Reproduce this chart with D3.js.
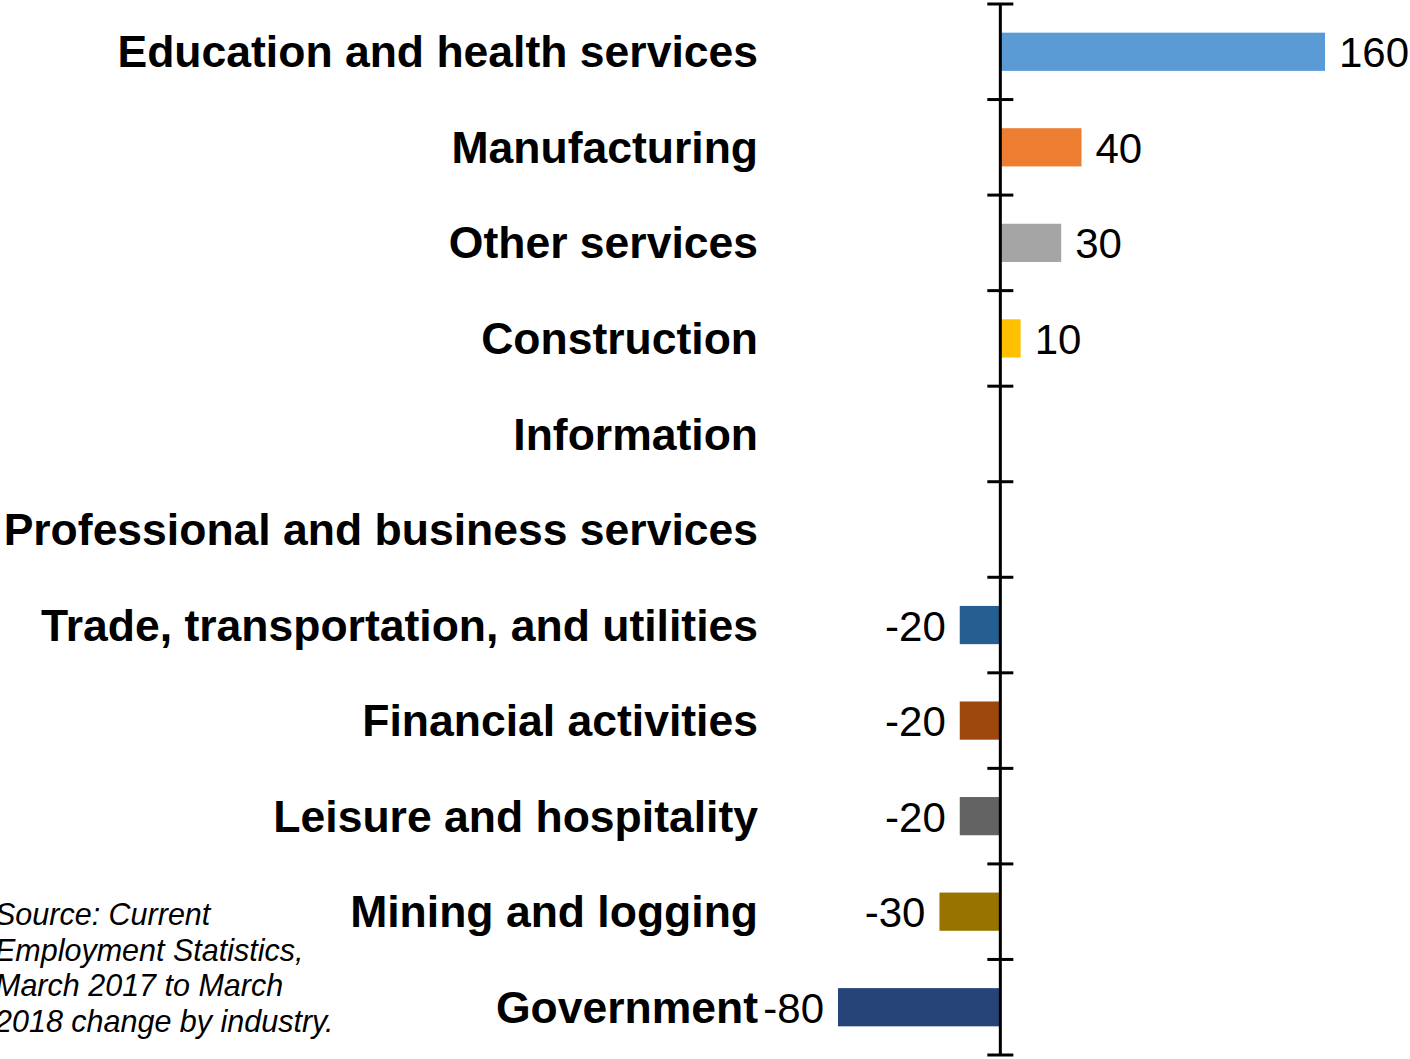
<!DOCTYPE html>
<html>
<head>
<meta charset="utf-8">
<title>Change by industry</title>
<script src="https://cdn.jsdelivr.net/npm/d3@7"></script>
<style>
  html, body { margin: 0; padding: 0; background: #fff; }
  svg { display: block; }
</style>
</head>
<body>
<svg id="svg"></svg>
<script>
var WIDTH = 1410;
var HEIGHT = 1059;

// data
var industries = [
  "Education and health services",
  "Manufacturing",
  "Other services",
  "Construction",
  "Information",
  "Professional and business services",
  "Trade, transportation, and utilities",
  "Financial activities",
  "Leisure and hospitality",
  "Mining and logging",
  "Government"
];
var changes = [160, 40, 30, 10, 0, 0, -20, -20, -20, -30, -80];
var barColors = ["#5B9BD5", "#ED7D31", "#A5A5A5", "#FFC000", "#4472C4", "#70AD47",
                 "#255E91", "#9E480E", "#636363", "#997300", "#264478"];
var sourceLines = [
  "Source: Current",
  "Employment Statistics,",
  "March 2017 to March",
  "2018 change by industry."
];

var data = industries.map(function(d, i) {
  return { name: d, value: changes[i], color: barColors[i] };
});

var svg = d3.select("#svg")
  .attr("width", WIDTH)
  .attr("height", HEIGHT);

var x = d3.scaleLinear()
  .domain([-80, 160])
  .range([838, 1325]);

var y = d3.scaleBand()
  .domain(industries)
  .range([4, 1055])
  .paddingInner(0.6)
  .paddingOuter(0.3);

var step = y.step();

// bars
svg.selectAll("rect.bar")
  .data(data)
  .enter()
  .append("rect")
  .attr("class", "bar")
  .attr("x", function(d) { return x(Math.min(0, d.value)); })
  .attr("y", function(d) { return y(d.name); })
  .attr("width", function(d) { return Math.abs(x(d.value) - x(0)); })
  .attr("height", y.bandwidth())
  .attr("fill", function(d) { return d.color; });

// category axis: vertical line at zero with ticks on band boundaries
var boundaries = d3.range(industries.length + 1).map(function(i) { return 4 + i * step; });

svg.append("line")
  .attr("x1", x(0)).attr("x2", x(0))
  .attr("y1", boundaries[0]).attr("y2", boundaries[boundaries.length - 1])
  .attr("stroke", "#000")
  .attr("stroke-width", 3);

svg.selectAll("line.tick")
  .data(boundaries)
  .enter()
  .append("line")
  .attr("class", "tick")
  .attr("x1", x(0) - 13).attr("x2", x(0) + 13)
  .attr("y1", function(d) { return d; })
  .attr("y2", function(d) { return d; })
  .attr("stroke", "#000")
  .attr("stroke-width", 3);

// category labels
svg.selectAll("text.cat")
  .data(data)
  .enter()
  .append("text")
  .attr("class", "cat")
  .attr("x", 758)
  .attr("y", function(d) { return y(d.name) + y.bandwidth() / 2; })
  .attr("dy", "0.35em")
  .attr("text-anchor", "end")
  .attr("font-family", "Liberation Sans, Arial, sans-serif")
  .attr("font-weight", "bold")
  .attr("font-size", "44.5px")
  .attr("fill", "#000")
  .text(function(d) { return d.name; });

// value labels
svg.selectAll("text.val")
  .data(data.filter(function(d) { return d.value !== 0; }))
  .enter()
  .append("text")
  .attr("class", "val")
  .attr("x", function(d) { return d.value > 0 ? x(d.value) + 14 : x(d.value) - 14; })
  .attr("y", function(d) { return y(d.name) + y.bandwidth() / 2; })
  .attr("dy", "0.37em")
  .attr("text-anchor", function(d) { return d.value > 0 ? "start" : "end"; })
  .attr("font-family", "Liberation Sans, Arial, sans-serif")
  .attr("font-size", "42px")
  .attr("fill", "#000")
  .text(function(d) { return d.value; });

// source note (clipped at the left edge as in the original)
svg.append("g")
  .selectAll("text")
  .data(sourceLines)
  .enter()
  .append("text")
  .attr("x", -5)
  .attr("y", function(d, i) { return 925 + i * 35.7; })
  .attr("font-family", "Liberation Sans, Arial, sans-serif")
  .attr("font-style", "italic")
  .attr("font-size", "30.5px")
  .attr("fill", "#000")
  .text(function(d) { return d; });
</script>
</body>
</html>
